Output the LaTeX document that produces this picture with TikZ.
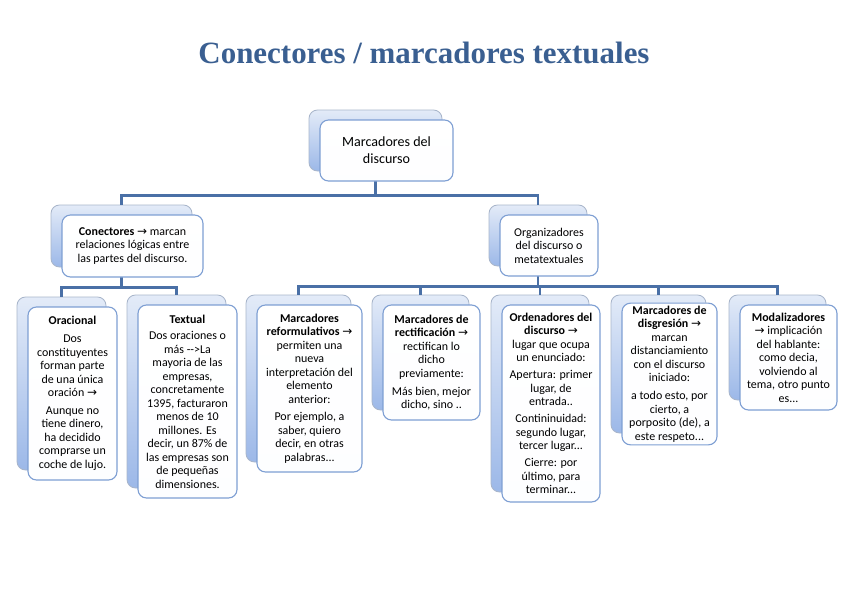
\documentclass[tikz,border=0pt]{standalone}
\usepackage{fontspec}
\setmainfont{Carlito}
\newfontfamily\titlefont{Liberation Serif}
\newfontfamily\flechafont{DejaVu Sans}
\usetikzlibrary{positioning, arrows.meta}
\newlength{\pix}
\setlength{\pix}{0.025cm}
\newcommand{\flecha}{{\flechafont →}}
\definecolor{titleblue}{HTML}{3A5F91}
\definecolor{lineblue}{HTML}{4A70A6}
\definecolor{frontblue}{HTML}{7E9FD3}
\definecolor{backgray}{HTML}{A9B6CB}
\definecolor{backtop}{HTML}{E3EBF8}
\definecolor{backbot}{HTML}{9CB8E8}
\begin{document}
\begin{tikzpicture}[
    x=0.025cm, y=-0.025cm,
    fondo/.style={draw=backgray, line width=0.6pt, rounded corners=6pt, top color=backtop, bottom color=backbot},
    frente/.style={draw=frontblue, line width=0.8pt, rounded corners=6pt, top color=white, bottom color=white!94!backtop, align=center, inner sep=2pt, font=\fontsize{8.5}{9.6}\selectfont},
    conector/.style={draw=lineblue, line width=1.7pt}
]
\fill[white] (0,0) rectangle (848,599);
\useasboundingbox (0,0) rectangle (848,599);

% Title
\node[anchor=base, text=titleblue, font=\titlefont\bfseries\fontsize{22}{26}\selectfont] (titulo) at (424,63) {Conectores / marcadores textuales};

% Back boxes
\node[fondo, minimum width=133\pix, minimum height=61\pix] (marc-b) at (375.5,140.5) {};
\node[fondo, minimum width=141\pix, minimum height=62\pix] (conec-b) at (121.5,236) {};
\node[fondo, minimum width=98\pix, minimum height=61\pix] (organ-b) at (538,235.5) {};
\node[fondo, minimum width=89\pix, minimum height=173\pix] (orac-b) at (61.5,383.5) {};
\node[fondo, minimum width=99\pix, minimum height=193\pix] (textu-b) at (176.5,391.5) {};
\node[fondo, minimum width=105\pix, minimum height=167\pix] (reform-b) at (298.5,378.5) {};
\node[fondo, minimum width=97\pix, minimum height=115\pix] (rectif-b) at (420.5,352.5) {};
\node[fondo, minimum width=98\pix, minimum height=197\pix] (orden-b) at (540,393.5) {};
\node[fondo, minimum width=95\pix, minimum height=138\pix] (disgr-b) at (658.5,364) {};
\node[fondo, minimum width=97\pix, minimum height=105\pix] (modal-b) at (777.5,347.5) {};

% Connectors
\draw[conector] (marc-b.south) -- ++(0,24) -| (conec-b.north);
\draw[conector] (marc-b.south) -- ++(0,24) -| (organ-b.north);
\draw[conector] (conec-b.south) -- ++(0,20) -| (orac-b.north);
\draw[conector] (conec-b.south) -- ++(0,20) -| (textu-b.north);
\draw[conector] (organ-b.south) -- ++(0,20) -| (reform-b.north);
\draw[conector] (organ-b.south) -- ++(0,20) -| (rectif-b.north);
\draw[conector] (organ-b.south) -- ++(0,20) -| (orden-b.north);
\draw[conector] (organ-b.south) -- ++(0,20) -| (disgr-b.north);
\draw[conector] (organ-b.south) -- ++(0,20) -| (modal-b.north);

% Front boxes
\node[frente, minimum width=133\pix, minimum height=61\pix, font=\fontsize{10}{12}\selectfont] (marc) at ([shift={(11,10)}]marc-b.center) {Marcadores del\\ discurso};
\node[frente, minimum width=141\pix, minimum height=62\pix] (conec) at ([shift={(11,10)}]conec-b.center) {\textbf{Conectores} \flecha{} marcan\\ relaciones lógicas entre\\ las partes del discurso.};
\node[frente, minimum width=98\pix, minimum height=61\pix] (organ) at ([shift={(11,10)}]organ-b.center) {Organizadores\\ del discurso o\\ metatextuales};

\node[frente, minimum width=89\pix, minimum height=173\pix] (orac) at ([shift={(11,10)}]orac-b.center) {\textbf{Oracional}\\[3pt] Dos\\ constituyentes\\ forman parte\\ de una única\\ oración \flecha\\[3pt] Aunque no\\ tiene dinero,\\ ha decidido\\ comprarse un\\ coche de lujo.};
\node[frente, minimum width=99\pix, minimum height=193\pix] (textu) at ([shift={(11,10)}]textu-b.center) {\textbf{Textual}\\[2pt] Dos oraciones o\\ más -{}->La\\ mayoria de las\\ empresas,\\ concretamente\\ 1395, facturaron\\ menos de 10\\ millones. Es\\ decir, un 87\% de\\ las empresas son\\ de pequeñas\\ dimensiones.};

\node[frente, minimum width=105\pix, minimum height=167\pix] (reform) at ([shift={(11,10)}]reform-b.center) {\textbf{Marcadores}\\ \textbf{reformulativos} \flecha\\ permiten una\\ nueva\\ interpretación del\\ elemento\\ anterior:\\[3pt] Por ejemplo, a\\ saber, quiero\\ decir, en otras\\ palabras...};
\node[frente, minimum width=97\pix, minimum height=115\pix] (rectif) at ([shift={(11,10)}]rectif-b.center) {\textbf{Marcadores de}\\ \textbf{rectificación} \flecha\\ rectifican lo\\ dicho\\ previamente:\\[3pt] Más bien, mejor\\ dicho, sino ..};
\node[frente, minimum width=98\pix, minimum height=197\pix] (orden) at ([shift={(11,10)}]orden-b.center) {\textbf{Ordenadores del}\\ \textbf{discurso} \flecha\\ lugar que ocupa\\ un enunciado:\\[2.5pt] Apertura: primer\\ lugar, de\\ entrada..\\[2.5pt] Contininuidad:\\ segundo lugar,\\ tercer lugar...\\[2.5pt] Cierre: por\\ último, para\\ terminar...};
\node[frente, minimum width=95\pix, minimum height=138\pix] (disgr) at ([shift={(11,10)}]disgr-b.center) {\textbf{Marcadores de}\\ \textbf{disgresión} \flecha\\ marcan\\ distanciamiento\\ con el discurso\\ iniciado:\\[3pt] a todo esto, por\\ cierto, a\\ porposito (de), a\\ este respeto...};
\node[frente, minimum width=97\pix, minimum height=105\pix] (modal) at ([shift={(11,10)}]modal-b.center) {\textbf{Modalizadores}\\ \flecha{} implicación\\ del hablante:\\ como decia,\\ volviendo al\\ tema, otro punto\\ es...};

\end{tikzpicture}
\end{document}
